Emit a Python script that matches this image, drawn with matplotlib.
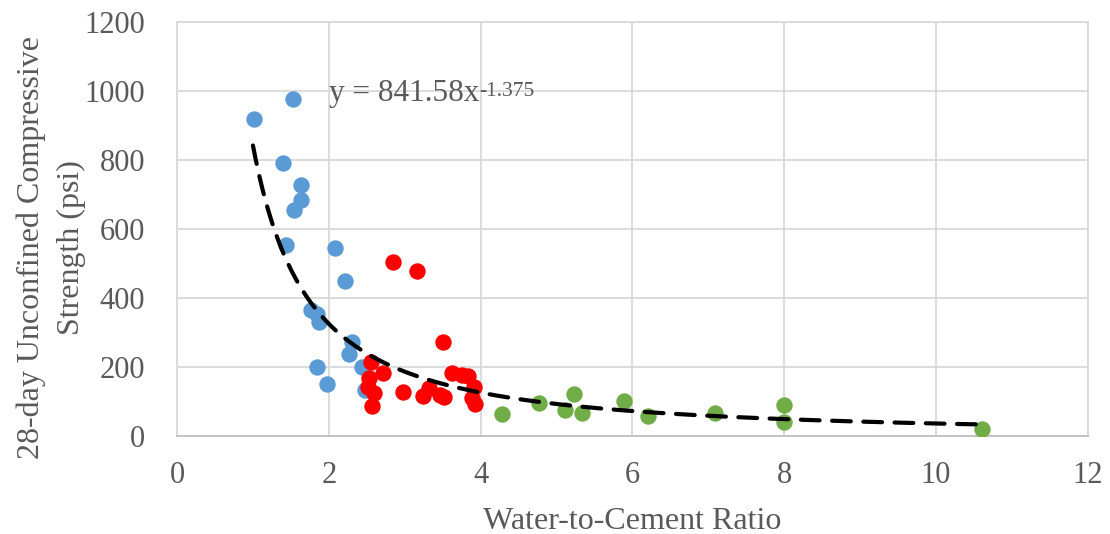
import numpy as np
import matplotlib.pyplot as plt

# blue series
wc_blue = [1.01, 1.53, 1.39, 1.43, 1.63, 1.63, 1.54, 2.08, 2.21, 1.76, 1.84, 1.87,
           1.85, 1.97, 2.31, 2.26, 2.44, 2.47]
ucs_blue = [917, 975, 792, 553, 727, 683, 655, 545, 450, 364, 353, 330,
            198, 150, 272, 236, 200, 134]

# red series
wc_red = [2.55, 2.71, 2.53, 2.51, 2.60, 2.57, 2.98, 2.85, 3.16, 3.50, 3.24, 3.32,
          3.47, 3.52, 3.62, 3.76, 3.83, 3.91, 3.89, 3.93]
ucs_red = [213, 183, 168, 140, 123, 86, 128, 504, 477, 272, 115, 137,
           118, 113, 181, 176, 173, 142, 108, 92]

# green series
wc_green = [4.28, 4.77, 5.23, 5.11, 5.33, 5.89, 6.21, 7.09, 8.0, 8.0, 10.61]
ucs_green = [62, 94, 120, 74, 65, 101, 57, 65, 90, 40, 21]

# power trendline y = a * x^b
fit_a = 841.58
fit_b = -1.375
fit_range = [1.0, 10.61]

x_ticks = [0, 2, 4, 6, 8, 10, 12]
y_ticks = [0, 200, 400, 600, 800, 1000, 1200]

plt.rcParams['font.family'] = ['Liberation Serif', 'DejaVu Serif']

fig = plt.figure(figsize=(11.1, 5.34), dpi=100)
ax = fig.add_axes([0.1595, 0.184, 0.8205, 0.775])

ms = 11.8
ax.plot(wc_blue, ucs_blue, 'o', color='#5B9BD5', markersize=ms, markeredgewidth=0, zorder=3)
ax.plot(wc_red, ucs_red, 'o', color='#FF0000', markersize=ms, markeredgewidth=0, zorder=3)
ax.plot(wc_green, ucs_green, 'o', color='#70AD47', markersize=ms, markeredgewidth=0, zorder=3)

xf = np.linspace(fit_range[0], fit_range[1], 300)
ax.plot(xf, fit_a * xf ** fit_b, color='black', linewidth=3,
        dashes=(4.5, 3), solid_capstyle='round', dash_capstyle='round', zorder=4)

# trendline equation (superscript drawn as separate text to keep the hyphen)
eq = ax.text(2.0, 972, 'y = 841.58x', fontsize=22.5, color='#595959',
             va='baseline', ha='left', zorder=5)
ax.annotate(f'{fit_b:g}', xy=(1.0, 0.0), xycoords=eq, xytext=(0, 8),
            textcoords='offset points', fontsize=15.5, color='#595959',
            va='baseline', ha='left', zorder=5)

ax.set_xlim(0, 12)
ax.set_ylim(0, 1200)
ax.set_xticks(x_ticks)
ax.set_yticks(y_ticks)
ax.tick_params(length=0, labelsize=22, labelcolor='#595959')
ax.tick_params(axis='x', pad=18)
ax.tick_params(axis='y', pad=23)
ax.grid(True, color='#D9D9D9', linewidth=1.3, zorder=0)
ax.set_axisbelow(True)
for s in ax.spines.values():
    s.set_color('#D9D9D9')
    s.set_linewidth(1.3)
ax.spines['bottom'].set_color('#BFBFBF')

ax.set_xlabel('Water-to-Cement Ratio', fontsize=23, color='#595959')
ax.xaxis.set_label_coords(0.5, -0.172)
ax.set_ylabel('28-day Unconfined Compressive\nStrength (psi)', fontsize=23,
              color='#595959', linespacing=1.5)
ax.yaxis.set_label_coords(-0.1, 0.455)

plt.savefig('out.png', dpi=100, facecolor='white')
plt.close()
